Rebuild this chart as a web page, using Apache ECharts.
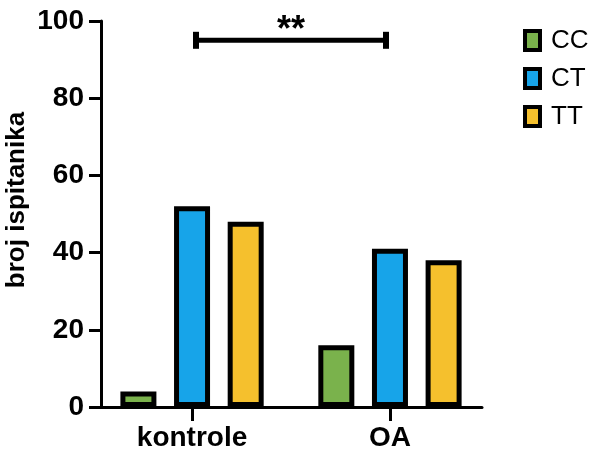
<!DOCTYPE html>
<html><head><meta charset="utf-8">
<script src="https://cdn.jsdelivr.net/npm/echarts@6/dist/echarts.min.js"></script>
<style>html,body{margin:0;padding:0;background:#fff}#c{width:590px;height:454px}</style>
</head><body><div id="c"></div>
<script>
const categories = ['kontrole', 'OA'];
const seriesNames = ['CC', 'CT', 'TT'];
const ccValues = [4, 16];
const ctValues = [52, 41];
const ttValues = [48, 38];
const yMin = 0, yMax = 100, yStep = 20;
const colors = ['#7AB24C', '#17A4E9', '#F5C02D'];
const yAxisName = 'broj ispitanika';
const sigFrom = 0.02, sigTo = 0.98, sigY = 95, sigLabel = '**';

const font = 'Arial, "Liberation Sans", Helvetica, sans-serif';
const chart = echarts.init(document.getElementById('c'), null, {renderer: 'canvas'});
const catPos = categories.map((c, i) => i);

function mk(name, vals, color) {
  return {
    name: name, type: 'bar',
    data: vals.map((v, i) => [catPos[i], v]),
    barWidth: 36, barGap: '49%',
    itemStyle: {color: color, borderColor: '#000', borderWidth: 5},
    emphasis: {disabled: true}
  };
}

const option = {
  animation: false,
  grid: {left: 101, right: 108, top: 21, bottom: 47, containLabel: false},
  xAxis: {
    type: 'value', min: -0.46, max: 1.465,
    splitLine: {show: false},
    axisLine: {show: true, onZero: false, lineStyle: {color: '#000', width: 3}},
    axisTick: {show: true, customValues: catPos, length: 14, lineStyle: {color: '#000', width: 3}},
    axisLabel: {customValues: catPos, formatter: v => categories[Math.round(v)] || '',
      fontSize: 28, fontWeight: 'bold', color: '#000', fontFamily: font, margin: 17}
  },
  yAxis: {
    type: 'value', min: yMin, max: yMax, interval: yStep,
    splitLine: {show: false},
    axisLine: {show: true, onZero: false, lineStyle: {color: '#000', width: 3}},
    axisTick: {show: true, length: 12, lineStyle: {color: '#000', width: 3}},
    axisLabel: {fontSize: 28, fontWeight: 'bold', color: '#000', fontFamily: font, margin: 17}
  },
  legend: {
    orient: 'vertical', left: 523, top: 27.5, padding: 0,
    data: seriesNames,
    icon: 'rect', itemWidth: 15, itemHeight: 19, itemGap: 12,
    itemStyle: {borderColor: '#000', borderWidth: 4},
    textStyle: {fontSize: 26, lineHeight: 26, color: '#000', fontFamily: font, padding: [0, 0, 0, 6]}
  },
  series: [
    mk(seriesNames[0], ccValues, colors[0]),
    mk(seriesNames[1], ctValues, colors[1]),
    mk(seriesNames[2], ttValues, colors[2])
  ]
};
chart.setOption(option);

const p1 = chart.convertToPixel({gridIndex: 0}, [sigFrom, sigY]);
const p2 = chart.convertToPixel({gridIndex: 0}, [sigTo, sigY]);
chart.setOption({
  graphic: [
    {type: 'line', shape: {x1: p1[0], y1: p1[1], x2: p2[0], y2: p2[1]}, style: {stroke: '#000', lineWidth: 5}},
    {type: 'rect', shape: {x: p1[0] - 3, y: p1[1] - 8.5, width: 6, height: 17}, style: {fill: '#000'}},
    {type: 'rect', shape: {x: p2[0] - 3, y: p2[1] - 8.5, width: 6, height: 17}, style: {fill: '#000'}},
    {type: 'text', x: (p1[0] + p2[0]) / 2, y: p1[1] - 9,
      style: {text: sigLabel, font: 'bold 36px ' + font, fill: '#000', align: 'center', verticalAlign: 'middle'}},
    {type: 'text', x: 17, y: 200, rotation: Math.PI / 2,
      style: {text: yAxisName, font: 'bold 26px ' + font, fill: '#000', align: 'center', verticalAlign: 'middle'}}
  ]
});
</script>
</body></html>
